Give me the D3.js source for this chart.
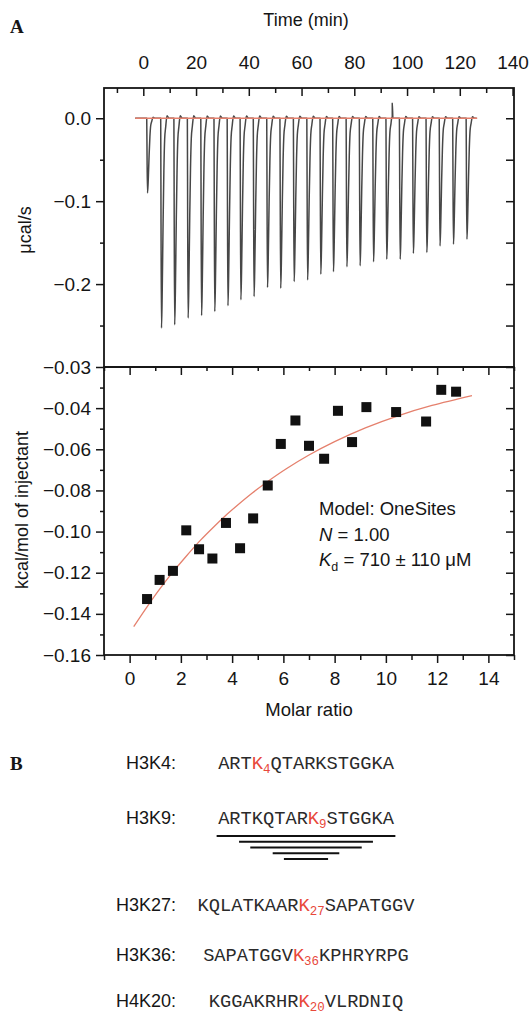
<!DOCTYPE html>
<html>
<head>
<meta charset="utf-8">
<script src="https://cdn.jsdelivr.net/npm/d3@7"></script>
<style>
  body { margin: 0; background: #fff; }
  svg { display: block; }
</style>
</head>
<body>
<svg id="fig" width="530" height="1013" font-family='"Liberation Sans", Arial, sans-serif' fill="#151515"></svg>
<script>
// ---- panel A (top): raw titration trace, µcal/s against time
const injTimes = [1.3, 6.6, 11.6, 16.7, 21.8, 26.8, 31.8, 36.7, 41.7, 46.8, 51.8, 56.9, 62.0,
  67.0, 71.8, 76.9, 81.9, 87.0, 92.0, 97.1, 102.1, 107.2, 112.2, 117.3, 122.4]
const injPeaks = [-0.090, -0.253, -0.249, -0.241, -0.238, -0.233, -0.226, -0.219, -0.215, -0.204,
  -0.205, -0.197, -0.195, -0.188, -0.185, -0.179, -0.178, -0.173, -0.170, -0.170, -0.163,
  -0.162, -0.154, -0.152, -0.146]
const blipTimes = [94.4]
const blipValues = [0.018]
const traceStart = -3.1
const traceEnd = 126.4
const timeTicks = [0, 20, 40, 60, 80, 100, 120, 140]
const rateTicks = [0, -0.1, -0.2]

// ---- panel A (bottom): integrated heats
const molarRatio = [0.68, 1.17, 1.69, 2.21, 2.71, 3.23, 3.76, 4.31, 4.82, 5.39, 5.90, 6.47, 7.00,
  7.59, 8.13, 8.68, 9.24, 10.40, 11.57, 12.16, 12.74]
const heat = [-0.1328, -0.1235, -0.1191, -0.0994, -0.1086, -0.1131, -0.0958, -0.1081, -0.0936,
  -0.0776, -0.0574, -0.0460, -0.0583, -0.0646, -0.0413, -0.0565, -0.0395, -0.0419, -0.0465,
  -0.0311, -0.0320]
// fitted one-site curve
const fitRatio = [0.16, 0.7, 1.2, 1.7, 2.2, 2.75, 3.3, 3.8, 4.3, 4.8, 5.35, 6.1, 7.0, 8.0, 9.2,
  10.5, 11.8, 13.36]
const fitHeat = [-0.1462, -0.1362, -0.1275, -0.1195, -0.1121, -0.1044, -0.0975, -0.0916, -0.0862,
  -0.0811, -0.0760, -0.0696, -0.0628, -0.0563, -0.0496, -0.0436, -0.0387, -0.0339]
const ratioTicks = [0, 2, 4, 6, 8, 10, 12, 14]
const heatTicks = [-0.16, -0.14, -0.12, -0.10, -0.08, -0.06, -0.04, -0.02]
const heatTickLabels = ["\u22120.16", "\u22120.14", "\u22120.12", "\u22120.10", "\u22120.08",
  "\u22120.06", "\u22120.04", "\u22120.03"]

// ---- panel B: peptides
const peptideNames = ["H3K4:", "H3K9:", "H3K27:", "H3K36:", "H4K20:"]
const seqBefore = ["ART", "ARTKQTAR", "KQLATKAAR", "SAPATGGV", "KGGAKRHR"]
const siteNumber = ["4", "9", "27", "36", "20"]
const seqAfter = ["QTARKSTGGKA", "STGGKA", "SAPATGGV", "KPHRYRPG", "VLRDNIQ"]
// H3K9 fragments (first / last residue)
const fragStart = [1, 3, 4, 6, 7]
const fragEnd = [15, 13, 12, 10, 9]

const svg = d3.select("#fig")
const ink = "#151515"
const red = "#e5806d"
const sans = '"Liberation Sans", Arial, sans-serif'

// frame edges
const L = 104, R = 514, T1 = 88, M = 367, B2 = 655

const xT = d3.scaleLinear([-14.9, 140.55], [L, R])
const yT = d3.scaleLinear([-0.3, 0.0365], [M, T1])
const xB = d3.scaleLinear([-1, 15], [L, R])
const yB = d3.scaleLinear([-0.16, -0.02], [B2, M])

// shape of one injection peak: [minutes after injection, fraction of peak depth]
const peakShape = [[0, 0], [0.12, 0.5], [0.3, 1], [0.55, 0.85], [0.9, 0.5], [1.2, 0.25],
  [1.5, 0.1], [1.9, 0.04], [2.4, -0.012], [3.2, 0]]

function styleAxis(g, size) {
  g.select(".domain").remove()
  g.selectAll("line").attr("stroke", ink).attr("stroke-width", 1.5)
  g.selectAll("text").attr("font-size", size).attr("font-family", sans).attr("fill", ink)
  g.attr("font-family", null).attr("font-size", null)
}

// ---------- raw trace ----------
let pts = [[traceStart, 0]]
injTimes.forEach((t, i) => {
  peakShape.forEach(([dt, f]) => pts.push([t + dt, injPeaks[i] * f]))
})
blipTimes.forEach((t, i) => {
  pts.push([t - 0.25, 0], [t, blipValues[i]], [t + 0.25, 0])
})
pts.push([traceEnd, 0])
pts.sort((a, b) => a[0] - b[0])

svg.append("path")
  .attr("d", d3.line().x(d => xT(d[0])).y(d => yT(d[1])).curve(d3.curveMonotoneX)(pts))
  .attr("fill", "none")
  .attr("stroke", "#474747")
  .attr("stroke-width", 1.5)
  .attr("stroke-linejoin", "round")

svg.append("line")
  .attr("x1", xT(traceStart)).attr("x2", xT(traceEnd + 0.2))
  .attr("y1", yT(0)).attr("y2", yT(0))
  .attr("stroke", red).attr("stroke-width", 1.4)

// ---------- integrated heats ----------
const fitPts = fitRatio.map((r, i) => [r, fitHeat[i]])
svg.append("path")
  .attr("d", d3.line().x(d => xB(d[0])).y(d => yB(d[1])).curve(d3.curveCatmullRom)(fitPts))
  .attr("fill", "none")
  .attr("stroke", red)
  .attr("stroke-width", 1.3)

const sq = 10
svg.selectAll(".pt")
  .data(molarRatio.map((r, i) => [r, heat[i]]))
  .join("rect")
  .attr("class", "pt")
  .attr("x", d => xB(d[0]) - sq / 2)
  .attr("y", d => yB(d[1]) - sq / 2)
  .attr("width", sq).attr("height", sq)
  .attr("fill", "#111")

// ---------- frames ----------
svg.append("rect").attr("x", L).attr("y", T1).attr("width", R - L).attr("height", M - T1)
  .attr("fill", "none").attr("stroke", ink).attr("stroke-width", 1.8)
svg.append("rect").attr("x", L).attr("y", M).attr("width", R - L).attr("height", B2 - M)
  .attr("fill", "none").attr("stroke", ink).attr("stroke-width", 1.8)

// ---------- top panel axes ----------
svg.append("g").attr("transform", `translate(0,${T1})`)
  .call(d3.axisTop(xT).tickValues(timeTicks).tickSizeInner(-8).tickSizeOuter(0).tickPadding(19))
  .call(g => styleAxis(g, 19))
svg.append("g").attr("transform", `translate(0,${T1})`)
  .call(d3.axisTop(xT).tickValues(d3.range(-10, 140, 20)).tickSize(-5).tickFormat(""))
  .call(g => styleAxis(g, 19))

svg.append("g").attr("transform", `translate(${L},0)`)
  .call(d3.axisLeft(yT).tickValues(rateTicks).tickSize(8).tickPadding(5).tickFormat(d3.format(".1f")))
  .call(g => styleAxis(g, 19))
svg.append("g").attr("transform", `translate(${L},0)`)
  .call(d3.axisLeft(yT).tickValues([-0.05, -0.15, -0.25]).tickSize(4).tickFormat(""))
  .call(g => styleAxis(g, 19))
svg.append("g").attr("transform", `translate(${R},0)`)
  .call(d3.axisRight(yT).tickValues([0, -0.05, -0.1, -0.15, -0.2, -0.25]).tickSize(-8).tickFormat(""))
  .call(g => styleAxis(g, 19))

// ---------- bottom panel axes ----------
const oddRatio = d3.range(-1, 16, 2)
svg.append("g").attr("transform", `translate(0,${M})`)
  .call(d3.axisTop(xB).tickValues(ratioTicks).tickSize(-8).tickFormat(""))
  .call(g => styleAxis(g, 19))
svg.append("g").attr("transform", `translate(0,${M})`)
  .call(d3.axisTop(xB).tickValues(oddRatio).tickSize(-4).tickFormat(""))
  .call(g => styleAxis(g, 19))
svg.append("g").attr("transform", `translate(0,${B2})`)
  .call(d3.axisBottom(xB).tickValues(ratioTicks).tickSize(8).tickPadding(9).tickFormat(d3.format("d")))
  .call(g => styleAxis(g, 19))
svg.append("g").attr("transform", `translate(0,${B2})`)
  .call(d3.axisBottom(xB).tickValues(oddRatio).tickSize(5).tickFormat(""))
  .call(g => styleAxis(g, 19))

const oddHeat = d3.range(-0.15, -0.02, 0.02)
svg.append("g").attr("transform", `translate(${L},0)`)
  .call(d3.axisLeft(yB).tickValues(heatTicks).tickSize(8).tickPadding(5)
    .tickFormat((d, i) => heatTickLabels[i]))
  .call(g => styleAxis(g, 19))
svg.append("g").attr("transform", `translate(${L},0)`)
  .call(d3.axisLeft(yB).tickValues(oddHeat).tickSize(4).tickFormat(""))
  .call(g => styleAxis(g, 19))
svg.append("g").attr("transform", `translate(${R},0)`)
  .call(d3.axisRight(yB).tickValues(heatTicks).tickSize(-8).tickFormat(""))
  .call(g => styleAxis(g, 19))
svg.append("g").attr("transform", `translate(${R},0)`)
  .call(d3.axisRight(yB).tickValues(oddHeat).tickSize(-4).tickFormat(""))
  .call(g => styleAxis(g, 19))

// ---------- axis titles ----------
svg.append("text").attr("x", 306).attr("y", 26).attr("text-anchor", "middle")
  .attr("font-size", 18).text("Time (min)")
svg.append("text").attr("transform", "translate(25,230) rotate(-90)").attr("dy", "0.35em")
  .attr("text-anchor", "middle").attr("font-size", 18).text("\u03bccal/s")
svg.append("text").attr("transform", "translate(22,510) rotate(-90)").attr("dy", "0.35em")
  .attr("text-anchor", "middle").attr("font-size", 18).text("kcal/mol of injectant")
svg.append("text").attr("x", 309).attr("y", 716).attr("text-anchor", "middle")
  .attr("font-size", 18.5).text("Molar ratio")

// fit annotation
const note = svg.append("g").attr("font-size", 18.5)
note.append("text").attr("x", 319).attr("y", 514.5).text("Model: OneSites")
const nLine = note.append("text").attr("x", 319).attr("y", 540.5)
nLine.append("tspan").attr("font-style", "italic").text("N")
nLine.append("tspan").text(" = 1.00")
const kLine = note.append("text").attr("x", 319).attr("y", 565.5)
kLine.append("tspan").attr("font-style", "italic").text("K")
kLine.append("tspan").attr("font-size", 12.5).attr("dy", 5).text("d")
kLine.append("tspan").attr("dy", -5).text(" = 710 \u00b1 110 \u03bcM")

// panel letters
const serif = '"Liberation Serif", "DejaVu Serif", serif'
svg.append("text").attr("x", 10).attr("y", 33).attr("font-family", serif)
  .attr("font-weight", "bold").attr("font-size", 19).text("A")
svg.append("text").attr("x", 10).attr("y", 770).attr("font-family", serif)
  .attr("font-weight", "bold").attr("font-size", 19).text("B")

// ---------- panel B ----------
const rowY = [768.5, 823.5, 910.5, 960.5, 1006.5]
const mono = '"Liberation Mono", "Courier New", monospace'

const seqTexts = []
peptideNames.forEach((name, i) => {
  svg.append("text").attr("x", 176).attr("y", rowY[i]).attr("text-anchor", "end")
    .attr("font-size", 18).text(name)
  const t = svg.append("text").attr("x", 306).attr("y", rowY[i]).attr("text-anchor", "middle")
    .attr("font-family", mono).attr("font-size", 18.7).attr("fill", "#2a2a2a")
  t.append("tspan").text(seqBefore[i])
  t.append("tspan").attr("fill", "#e8483a").text("K")
  t.append("tspan").attr("fill", "#e8483a").attr("font-size", 12.5).attr("dy", 4).text(siteNumber[i])
  t.append("tspan").attr("dy", -4).text(seqAfter[i])
  seqTexts.push(t)
})

// H3K9 peptide fragments drawn under the sequence
const k9 = seqTexts[1].node()
const siteRes = seqBefore[1].length + 1
const charIdx = r => r <= siteRes ? r - 1 : r - 1 + siteNumber[1].length
fragStart.forEach((s, i) => {
  const e = fragEnd[i]
  const eIdx = e === siteRes ? charIdx(e) + siteNumber[1].length : charIdx(e)
  const x1 = k9.getStartPositionOfChar(charIdx(s)).x - 1.5
  const x2 = k9.getEndPositionOfChar(eIdx).x + 1.5
  svg.append("line").attr("x1", x1).attr("x2", x2)
    .attr("y1", 836 + i * 5.75).attr("y2", 836 + i * 5.75)
    .attr("stroke", "#111").attr("stroke-width", 2)
})
</script>
</body>
</html>
